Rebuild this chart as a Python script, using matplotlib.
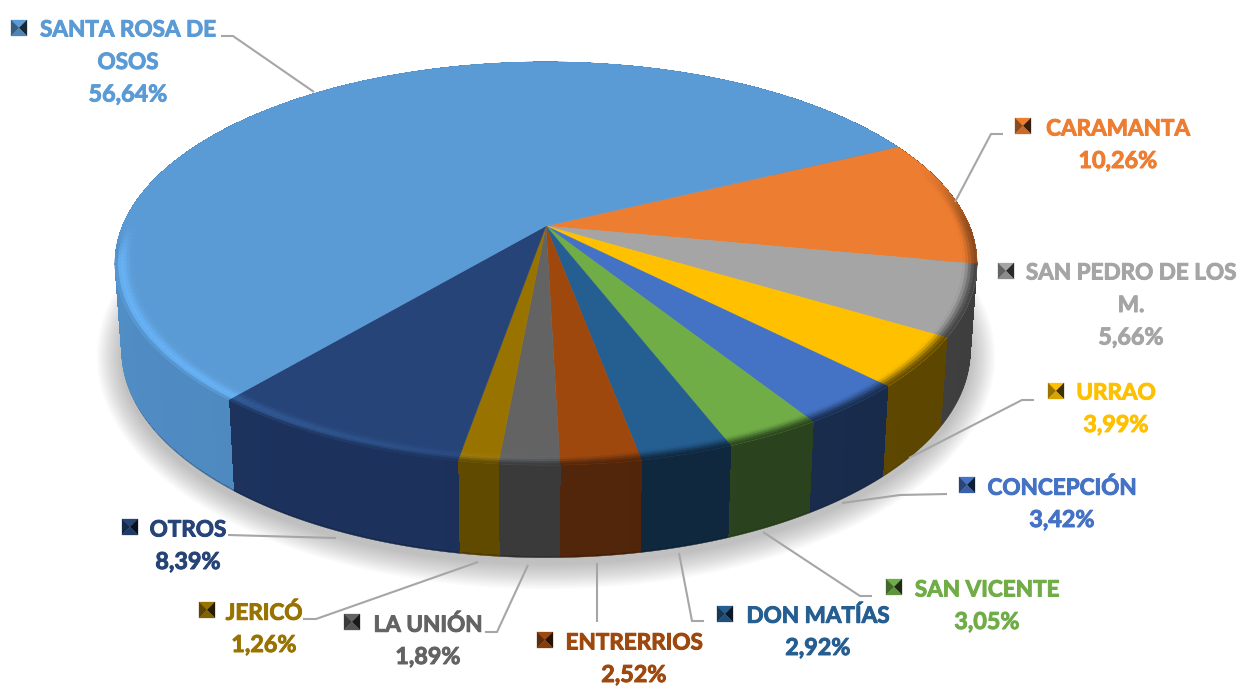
import numpy as np
import matplotlib
matplotlib.use("Agg")
import matplotlib.pyplot as plt
import matplotlib.patheffects as pe
from matplotlib.collections import PolyCollection
from matplotlib.colors import to_rgb

plt.rcParams["font.family"] = ["Lato", "DejaVu Sans"]

# data, clockwise from the Caramanta slice
names = ["CARAMANTA", "SAN PEDRO DE LOS\nM.", "URRAO", "CONCEPCIÓN", "SAN VICENTE", "DON MATÍAS",
         "ENTRERRIOS", "LA UNIÓN", "JERICÓ", "OTROS", "SANTA ROSA DE\nOSOS"]
values = [10.26, 5.66, 3.99, 3.42, 3.05, 2.92, 2.52, 1.89, 1.26, 8.39, 56.64]
colors = ["#ED7D31", "#A5A5A5", "#FFC000", "#4472C4", "#70AD47", "#255E91",
          "#9E480E", "#636363", "#997300", "#264478", "#5B9BD5"]
wall_colors = ["#8A4A1C", "#444444", "#644C00", "#1A2E50", "#2C451F", "#10293F",
               "#52260A", "#3A3A3A", "#5F4900", "#1B3059", "#4A82B5"]

# label layout: text centre x, first line y, marker x, marker y
label_pos = [(1118, 127, 1023, 126), (1131, 271, 1006, 271), (1116, 391, 1056, 391), (1062, 486, 967, 485),
             (987, 588, 894, 587), (818, 614, 725, 614), (634, 641, 545, 640), (428, 623, 352, 622),
             (264, 611, 207, 610), (188, 528, 130, 527), (128, 28, 19, 28)]
leaders = [[(1003, 134), (991, 134), (955, 202)],
           [(1034, 400), (1022, 400), (909, 458)],
           [(947, 494), (900, 495), (842, 503)],
           [(872, 596), (860, 596), (763, 532)],
           [(704, 621), (692, 621), (679, 553)],
           [(597, 622), (597, 563)],
           [(485, 632), (497, 632), (528, 565)],
           [(303, 619), (316, 619), (478, 562)],
           [(228, 535), (336, 538)],
           [(221, 36), (233, 36), (314, 92)]]

start_angle = 26.1
cx, cy = 546, 226
k = 0.186
top_a, top_b = 423.5, 194.6
bot_a, bot_b, bot_cy = 417.0, 200.0, 312.0


def project(theta, r=1.0, bottom=False):
    u, v = r * np.cos(np.radians(theta)), r * np.sin(np.radians(theta))
    d = 1 + k * v
    if bottom:
        return cx + bot_a * u / d, bot_cy - bot_b * v / d
    return cx + top_a * u / d, cy - top_b * v / d


def smooth(x):
    x = np.clip(x, 0, 1)
    return x * x * (3 - 2 * x)


fig = plt.figure(figsize=(12.43, 6.86), dpi=100)
ax = fig.add_axes([0, 0, 1, 1])
ax.set_xlim(0, 1243)
ax.set_ylim(686, 0)
ax.axis("off")

# soft shadow under the pie
tt = np.linspace(0, 2 * np.pi, 300)
for e in np.linspace(24, 0, 14):
    ax.fill(cx + (425 + e) * np.cos(tt), 357 + (208 + e) * np.sin(tt),
            color="#606060", alpha=0.032, lw=0, zorder=1)

edges = start_angle - np.cumsum([0] + values) * 3.6

# side walls: a smooth base per slice, then flat strips inside it
for i in range(len(values)):
    ths = np.linspace(edges[i], edges[i + 1], 200)
    xt, yt = project(ths)
    xb, yb = project(ths, bottom=True)
    ax.fill(np.r_[xt, xb[::-1]], np.r_[yt, yb[::-1]],
            color=np.array(to_rgb(wall_colors[i])) * 0.85, lw=0.3, zorder=2)

polys, cols = [], []
for i in range(len(values)):
    wall = np.array(to_rgb(wall_colors[i]))
    ths = np.arange(edges[i], edges[i + 1] - 0.01, -1.5)
    ths = np.append(ths, edges[i + 1])
    for a, b in zip(ths[:-1], ths[1:]):
        mid = np.radians((a + b) / 2)
        x1, y1 = project(a)
        x2, y2 = project(b)
        x3, y3 = project(b, bottom=True)
        x4, y4 = project(a, bottom=True)
        shade = 1 - 0.09 * np.cos(mid)
        f = 0.975
        polys.append([(x1, y1), (x2, y2), (x2 + (x3 - x2) * f, y2 + (y3 - y2) * f),
                      (x1 + (x4 - x1) * f, y1 + (y4 - y1) * f)])
        cols.append(np.clip(wall * shade, 0, 1))
ax.add_collection(PolyCollection(polys, facecolors=cols, edgecolors="none", antialiaseds=False, zorder=2.5))

# top surface
for i in range(len(values)):
    ths = np.linspace(edges[i], edges[i + 1], 200)
    xs, ys = project(ths)
    ax.fill(np.r_[cx, xs], np.r_[cy, ys], color=colors[i], lw=0.3, zorder=3)

# bevel along the rim
rs = np.linspace(0.955, 1.0, 8)
polys, cols = [], []
for i in range(len(values)):
    top = np.array(to_rgb(colors[i]))
    wall = np.array(to_rgb(wall_colors[i]))
    ths = np.arange(edges[i], edges[i + 1] - 0.01, -1.0)
    ths = np.append(ths, edges[i + 1])
    for a, b in zip(ths[:-1], ths[1:]):
        m = np.radians((a + b) / 2)
        u, v = np.cos(m), np.sin(m)
        if u < 0:
            effect = smooth((0.05 - v) / 0.25)
        else:
            effect = smooth((0.35 - v) / 0.4)
        h = np.clip(-1.2 * u + 0.2, 0, 1) * effect
        for r0, r1 in zip(rs[:-1], rs[1:]):
            t = ((r0 + r1) / 2 - rs[0]) / (rs[-1] - rs[0])
            ramp = smooth((t - (0.25 + 0.6 * h)) / (0.75 - 0.6 * h)) * effect
            bump = np.exp(-((t - 0.65) / 0.3) ** 2) * h
            c = top + (wall - top) * ramp + np.array([0.05, 0.09, 0.125]) * bump
            x0, y0 = project(a, r0)
            x1, y1 = project(b, r0)
            x2, y2 = project(b, r1)
            x3, y3 = project(a, r1)
            polys.append([(x0, y0), (x1, y1), (x2, y2), (x3, y3)])
            cols.append(np.clip(c, 0, 1))
ax.add_collection(PolyCollection(polys, facecolors=cols, edgecolors=cols, linewidths=0.3, zorder=4))

# leader lines
for pts in leaders:
    ax.plot([p[0] for p in pts], [p[1] for p in pts], color="#A6A6A6", lw=1.5, zorder=5,
            solid_capstyle="butt", solid_joinstyle="miter")

# labels with bevelled keys
line_h = 32.5
for i in range(len(values)):
    tx, ty, mx, my = label_pos[i]
    lines = names[i].split("\n")
    pct = f"{values[i]:.2f}%".replace(".", ",")
    for j, s in enumerate(lines + [pct]):
        ax.text(tx, ty + j * line_h, s, color=colors[i], fontsize=16.8 if s == pct else 16.2,
                fontweight="bold", ha="center", va="center_baseline", zorder=6,
                path_effects=[pe.withStroke(linewidth=0.7, foreground=colors[i])])
    c = np.array(to_rgb(colors[i]))
    s = 8
    tri = [((mx - s, my - s), (mx + s, my - s), 1.0),
           ((mx - s, my - s), (mx - s, my + s), 0.6),
           ((mx + s, my - s), (mx + s, my + s), 0.25),
           ((mx - s, my + s), (mx + s, my + s), 0.85)]
    for p0, p1, f in tri:
        ax.fill([p0[0], p1[0], mx], [p0[1], p1[1], my], color=c * f, lw=0.2, zorder=6)

fig.savefig("out.png", dpi=100)
